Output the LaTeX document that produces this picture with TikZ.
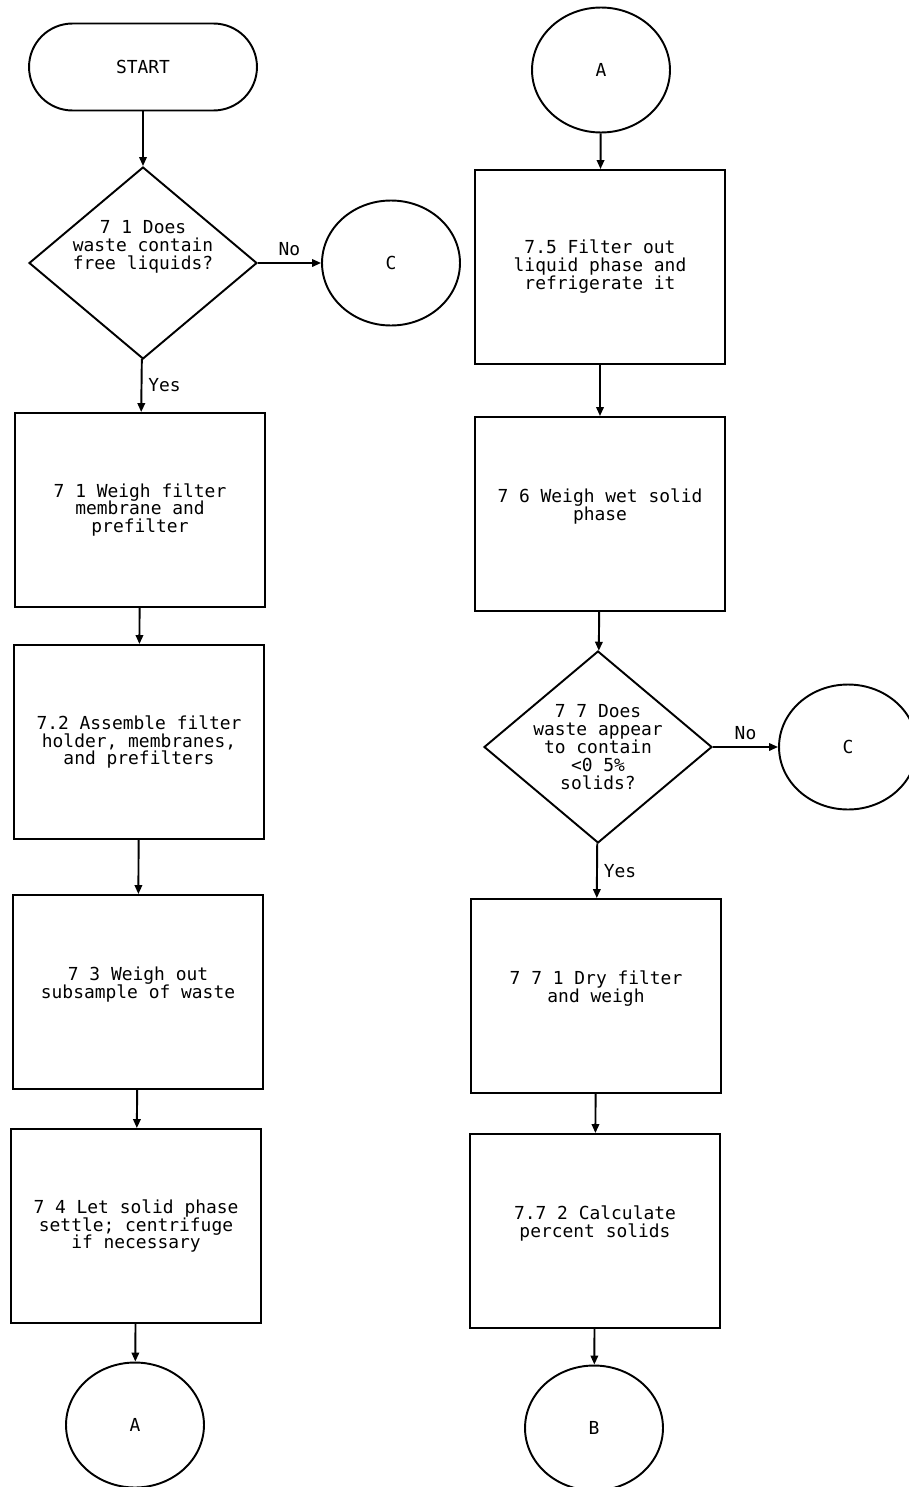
\documentclass[tikz,border=0pt]{standalone}
\usepackage{fontspec}
\setmonofont{DejaVu Sans Mono}
\usetikzlibrary{shapes.geometric,arrows.meta}

\tikzset{
  terminal/.style={draw, rectangle, rounded corners=0.87cm, minimum width=4.56cm, minimum height=1.74cm},
  process/.style={draw, rectangle, align=center, minimum width=5cm, minimum height=3.88cm},
  decision/.style={draw, diamond, align=center, aspect=1.18, inner sep=-4pt, minimum width=4.56cm, minimum height=3.84cm},
  connector/.style={draw, ellipse, minimum width=2.76cm, minimum height=2.5cm},
  flow/.style={-{Triangle[length=1.8mm,width=1.5mm]}}
}

\begin{document}
\begin{tikzpicture}[x=0.02cm, y=-0.02cm, line width=1.1pt,
  every node/.style={font=\ttfamily\fontsize{10.2}{10.24}\selectfont}]
\useasboundingbox (0,0) rectangle (909,1487);

% left column
\node[terminal] (start) at (143,67) {START};
\node[decision] (q1) at (143,263) {7 1 Does\\waste contain\\free liquids?\\~\\~};
\node[connector] (c1) at (391,263) {C};
\node[process] (s1) at (140,510) {7 1 Weigh filter\\membrane and\\prefilter};
\node[process] (s2) at (139,742) {7.2 Assemble filter\\holder, membranes,\\and prefilters};
\node[process] (s3) at (138,992) {7 3 Weigh out\\subsample of waste\\~};
\node[process] (s4) at (136,1226) {7 4 Let solid phase\\settle; centrifuge\\if necessary};
\node[connector] (a1) at (135,1425) {A};

% right column
\node[connector] (a2) at (601,70) {A};
\node[process] (s5) at (600,267) {7.5 Filter out\\liquid phase and\\refrigerate it};
\node[process] (s6) at (600,514) {7 6 Weigh wet solid\\phase\\~};
\node[decision] (q2) at (598,747) {7 7 Does\\waste appear\\to contain\\<0 5\%\\solids?};
\node[connector] (c2) at (848,747) {C};
\node[process] (s7) at (596,996) {7 7 1 Dry filter\\and weigh\\~};
\node[process] (s8) at (595,1231) {7.7 2 Calculate\\percent solids\\~};
\node[connector] (b) at (594,1428) {B};

% arrows
\draw[flow] (start) -- (q1);
\draw[flow] (q1) -- node[above] {No} (c1);
\draw[flow] (q1) -- node[right] {Yes} (s1);
\draw[flow] (s1) -- (s2);
\draw[flow] (s2) -- (s3);
\draw[flow] (s3) -- (s4);
\draw[flow] (s4) -- (a1);
\draw[flow] (a2) -- (s5);
\draw[flow] (s5) -- (s6);
\draw[flow] (s6) -- (q2);
\draw[flow] (q2) -- node[above] {No} (c2);
\draw[flow] (q2) -- node[right] {Yes} (s7);
\draw[flow] (s7) -- (s8);
\draw[flow] (s8) -- (b);
\end{tikzpicture}
\end{document}
